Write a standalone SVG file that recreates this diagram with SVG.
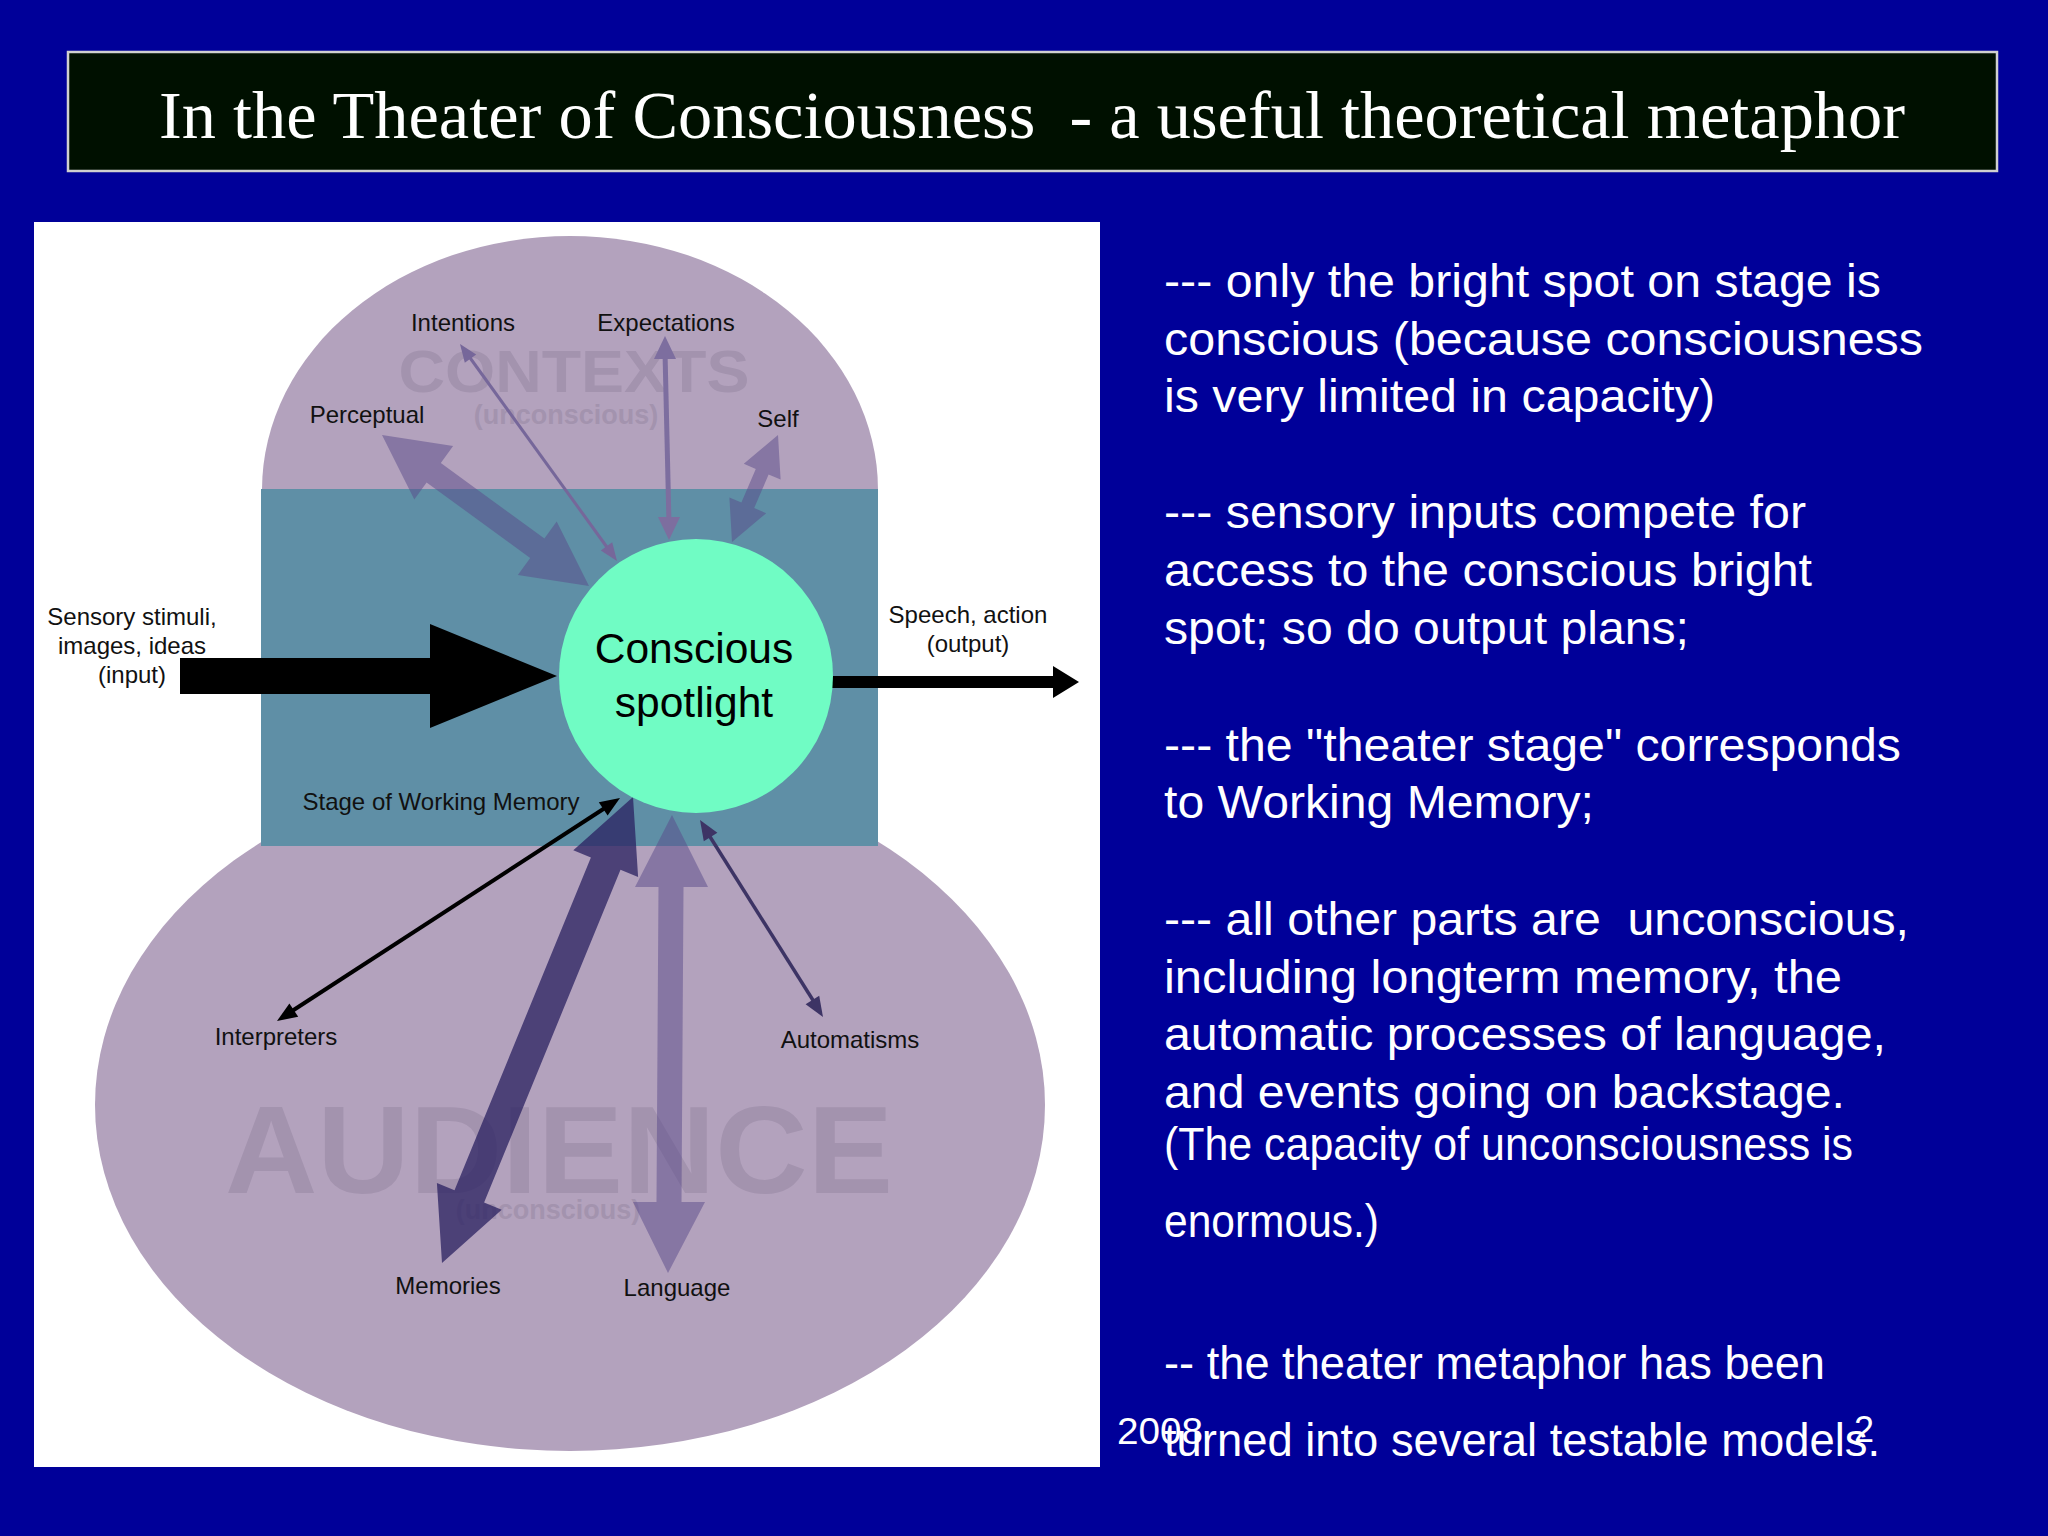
<svg xmlns="http://www.w3.org/2000/svg" width="2048" height="1536" viewBox="0 0 2048 1536">
<style>
.lbl{font-family:"Liberation Sans",Arial,sans-serif;font-size:24px;fill:#111;text-anchor:middle}
.wm{font-family:"Liberation Sans",Arial,sans-serif;font-weight:bold;fill:#a393ae;text-anchor:middle}
.body{font-family:"Liberation Sans",Arial,sans-serif;font-size:46px;fill:#fff}
.soft{fill:#5a4a8a;fill-opacity:0.5}
.dark{fill:#2a2060;fill-opacity:0.75}
</style>
<rect x="0" y="0" width="2048" height="1536" fill="#000099"/>
<g id="title">
<rect x="68" y="52" width="1929" height="119" fill="#001000" stroke="#d0d0d0" stroke-width="2.5"/>
<text x="159" y="138" textLength="1746" lengthAdjust="spacingAndGlyphs" xml:space="preserve" font-family="Liberation Serif,Times New Roman,serif" font-size="68" fill="#fff">In the Theater of Consciousness  - a useful theoretical metaphor</text>
</g>
<g id="diagram-background">
<rect x="34" y="222" width="1066" height="1245" fill="#fff"/>
<ellipse cx="570" cy="1105" rx="475" ry="346" fill="#b3a2bd"/>
<path d="M262 490 A308 254 0 0 1 878 490 Z" fill="#b3a2bd"/>
<rect x="261" y="489" width="617" height="357" fill="#5f8fa6"/>
<text class="wm" x="574" y="392" font-size="60" textLength="351" lengthAdjust="spacingAndGlyphs">CONTEXTS</text>
<text class="wm" x="566" y="424" font-size="27">(unconscious)</text>
<text class="wm" x="559" y="1193" font-size="124" textLength="668" lengthAdjust="spacingAndGlyphs">AUDIENCE</text>
<text class="wm" x="548" y="1219" font-size="27">(unconscious)</text>
</g>
<g id="connectors">
<polygon id="perceptual-arrow" class="soft" points="382,435 414.3,499.4 426.6,482.4 530.2,558 517.9,575 589,586 556.7,521.6 544.4,538.6 440.8,463 453.1,446"/>
<g id="intentions-arrow" fill="#76679a" stroke="#76679a">
<line x1="468" y1="355" x2="609" y2="550" stroke-width="3"/>
<polygon stroke="none" points="460,344 464.8,362.7 476.2,354.5"/>
<polygon stroke="none" points="617,561 600.8,550.5 612.2,542.3"/>
</g>
<g id="expectations-arrow" fill="#7d6e9f" stroke="#7d6e9f">
<line x1="665" y1="352" x2="669" y2="524" stroke-width="5"/>
<polygon stroke="none" points="665,336 676,359 654,359"/>
<polygon stroke="none" points="669,540 658,517 680,517"/>
</g>
<polygon id="self-arrow" class="soft" points="778,435 780.6,479.6 768.6,474.5 754.2,508.1 766.2,513.2 732,542 729.4,497.4 741.4,502.5 755.8,468.9 743.8,463.8"/>
<polygon id="input-arrow" fill="#000" points="180,658 430,658 430,624 557,676 430,728 430,694 180,694"/>
<polygon id="output-arrow" fill="#000" points="830,676 1053,676 1053,666 1079,682 1053,698 1053,688 830,688"/>
<g id="interpreters-arrow" fill="#000" stroke="#000">
<line x1="608" y1="806" x2="289" y2="1013" stroke-width="4"/>
<polygon stroke="none" points="620,798 598.8,802.2 607.6,815.6"/>
<polygon stroke="none" points="277,1021 289.4,1003.4 298.2,1016.8"/>
</g>
<polygon id="memories-arrow" class="dark" points="633,797 638.1,876.9 620.5,869.7 484.1,1202.5 501.7,1209.7 442,1263 436.9,1183.1 454.5,1190.3 590.9,857.5 573.3,850.3"/>
<polygon id="language-arrow" class="soft" points="672,815 708,887 683.5,887 681.5,1202 705,1202 668,1273 633,1202 656.5,1202 658.5,887 635,887"/>
<g id="automatisms-arrow" fill="#3d3465" stroke="#3d3465">
<line x1="707" y1="832" x2="816" y2="1005" stroke-width="3.5"/>
<polygon stroke="none" points="700,820 703.8,841.2 717.4,832.8"/>
<polygon stroke="none" points="823,1017 805.6,1004.2 819.2,995.8"/>
</g>
</g>
<g id="spotlight">
<circle cx="696" cy="676" r="137" fill="#70fcc4"/>
<text x="694" y="663" font-family="Liberation Sans,Arial,sans-serif" font-size="42.5" fill="#000" text-anchor="middle">Conscious</text>
<text x="694" y="717" font-family="Liberation Sans,Arial,sans-serif" font-size="42.5" fill="#000" text-anchor="middle">spotlight</text>
</g>
<g id="intentions"><text class="lbl" x="463" y="331">Intentions</text></g>
<g id="expectations"><text class="lbl" x="666" y="331">Expectations</text></g>
<g id="perceptual"><text class="lbl" x="367" y="423">Perceptual</text></g>
<g id="self"><text class="lbl" x="778" y="427">Self</text></g>
<g id="sensory-input">
<text class="lbl" x="132" y="625">Sensory stimuli,</text>
<text class="lbl" x="132" y="654">images, ideas</text>
<text class="lbl" x="132" y="683">(input)</text>
</g>
<g id="speech-output">
<text class="lbl" x="968" y="623">Speech, action</text>
<text class="lbl" x="968" y="652">(output)</text>
</g>
<g id="stage"><text class="lbl" x="441" y="810">Stage of Working Memory</text></g>
<g id="interpreters"><text class="lbl" x="276" y="1045">Interpreters</text></g>
<g id="automatisms"><text class="lbl" x="850" y="1048">Automatisms</text></g>
<g id="memories"><text class="lbl" x="448" y="1294">Memories</text></g>
<g id="language"><text class="lbl" x="677" y="1296">Language</text></g>
<g id="notes">
<text class="body" x="1164" y="297" textLength="717" lengthAdjust="spacingAndGlyphs">--- only the bright spot on stage is</text>
<text class="body" x="1164" y="355" textLength="759" lengthAdjust="spacingAndGlyphs">conscious (because consciousness</text>
<text class="body" x="1164" y="412" textLength="551" lengthAdjust="spacingAndGlyphs">is very limited in capacity)</text>
<text class="body" x="1164" y="528" textLength="642" lengthAdjust="spacingAndGlyphs">--- sensory inputs compete for</text>
<text class="body" x="1164" y="586" textLength="648" lengthAdjust="spacingAndGlyphs">access to the conscious bright</text>
<text class="body" x="1164" y="644" textLength="525" lengthAdjust="spacingAndGlyphs">spot; so do output plans;</text>
<text class="body" x="1164" y="761" textLength="737" lengthAdjust="spacingAndGlyphs">--- the "theater stage" corresponds</text>
<text class="body" x="1164" y="818" textLength="430" lengthAdjust="spacingAndGlyphs">to Working Memory;</text>
<text class="body" x="1164" y="935" textLength="745" lengthAdjust="spacingAndGlyphs" xml:space="preserve">--- all other parts are  unconscious,</text>
<text class="body" x="1164" y="993" textLength="678" lengthAdjust="spacingAndGlyphs">including longterm memory, the</text>
<text class="body" x="1164" y="1050" textLength="722" lengthAdjust="spacingAndGlyphs">automatic processes of language,</text>
<text class="body" x="1164" y="1108" textLength="681" lengthAdjust="spacingAndGlyphs">and events going on backstage.</text>
<text class="body" x="1164" y="1160" font-size="38" textLength="689" lengthAdjust="spacingAndGlyphs">(The capacity of unconsciousness is</text>
<text class="body" x="1164" y="1237" font-size="38" textLength="215" lengthAdjust="spacingAndGlyphs">enormous.)</text>
<text class="body" x="1164" y="1379" textLength="661" lengthAdjust="spacingAndGlyphs">-- the theater metaphor has been</text>
<text class="body" x="1164" y="1456" textLength="716" lengthAdjust="spacingAndGlyphs">turned into several testable models.</text>
</g>
<g id="footer">
<text x="1117" y="1444" font-family="Liberation Sans,Arial,sans-serif" font-size="36" fill="#fff" textLength="86" lengthAdjust="spacingAndGlyphs">2008</text>
<text x="1854" y="1442" font-family="Liberation Sans,Arial,sans-serif" font-size="36" fill="#fff">2</text>
</g>
</svg>
